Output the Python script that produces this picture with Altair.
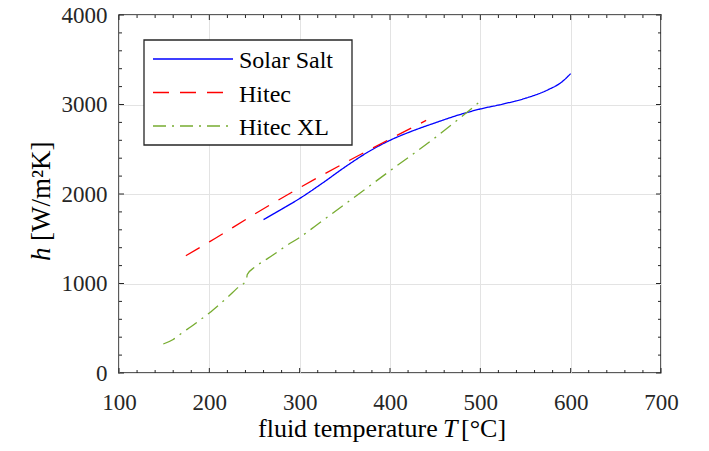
import altair as alt
import pandas as pd

# ---- data ----
series_names = ["Solar Salt", "Hitec", "Hitec XL"]
series_colors = ["#0000FF", "#FF0000", "#77AC30"]
series_dashes = [[1, 0], [16, 11], [13, 6, 2, 6]]

solar_T = [260, 280, 300, 325, 350, 375, 400, 425, 450, 475, 500, 525, 550, 575, 590, 600]
solar_h = [1714, 1830, 1950, 2120, 2300, 2465, 2600, 2705, 2795, 2880, 2950, 3005, 3070, 3165, 3250, 3345]

hitec_T = [174, 200, 250, 300, 350, 400, 440]
hitec_h = [1311, 1465, 1775, 2070, 2348, 2614, 2822]

xl_T = [149, 160, 170, 180, 190, 200, 210, 220, 230, 241, 242, 250, 260, 270, 285, 300, 325, 350, 400, 450, 498]
xl_h = [324, 375, 450, 520, 595, 670, 755, 845, 940, 1040, 1100, 1180, 1250, 1315, 1420, 1515, 1700, 1885, 2259, 2630, 3019]

x_major = [100, 200, 300, 400, 500, 600, 700]
x_minor = [t for t in range(100, 701, 20) if t % 100 != 0]
y_major = [0, 1000, 2000, 3000, 4000]
y_minor = [v for v in range(0, 4001, 200) if v % 1000 != 0]

# ---- build tables ----
rows = []
for name, T, h in [("Solar Salt", solar_T, solar_h), ("Hitec", hitec_T, hitec_h), ("Hitec XL", xl_T, xl_h)]:
    for t, v in zip(T, h):
        rows.append({"T": t, "h": v, "series": name})
df = pd.DataFrame(rows)

W, H = 542, 358
FONT = "Liberation Serif"
INK = "#262626"
TICK_FS = 23

xscale = alt.Scale(domain=[100, 700], nice=False, zero=False)
yscale = alt.Scale(domain=[0, 4000], nice=False, zero=False)

x_axis = alt.Axis(values=x_major, title=None, grid=True, gridColor="#e3e3e3", gridWidth=1,
                  domain=False, ticks=False, tickSize=0, labelPadding=18,
                  labelFont=FONT, labelFontSize=TICK_FS, labelColor=INK, labelFlush=False,
                  labelOverlap=False, format="d")
y_axis = alt.Axis(values=y_major, title=None, grid=True, gridColor="#e3e3e3", gridWidth=1,
                  domain=False, ticks=False, tickSize=0, labelPadding=12,
                  labelFont=FONT, labelFontSize=TICK_FS, labelColor=INK, labelFlush=False,
                  labelOverlap=False, format="d")

lines = alt.Chart(df).mark_line(strokeWidth=1.3, interpolate="monotone").encode(
    x=alt.X("T:Q", scale=xscale, axis=x_axis),
    y=alt.Y("h:Q", scale=yscale, axis=y_axis),
    color=alt.Color("series:N", scale=alt.Scale(domain=series_names, range=series_colors), legend=None),
    strokeDash=alt.StrokeDash("series:N", scale=alt.Scale(domain=series_names, range=series_dashes),
                              legend=None),
)

# ---- inward ticks on all four sides ----
def xticks(vals, length):
    d = pd.DataFrame({"T": vals})
    bottom = alt.Chart(d).mark_rule(color=INK, strokeWidth=1).encode(
        x=alt.X("T:Q", scale=xscale, axis=x_axis), y=alt.value(H), y2=alt.value(H - length))
    top = alt.Chart(d).mark_rule(color=INK, strokeWidth=1).encode(
        x=alt.X("T:Q", scale=xscale, axis=x_axis), y=alt.value(0), y2=alt.value(length))
    return [bottom, top]

def yticks(vals, length):
    d = pd.DataFrame({"h": vals})
    left = alt.Chart(d).mark_rule(color=INK, strokeWidth=1).encode(
        y=alt.Y("h:Q", scale=yscale, axis=y_axis), x=alt.value(0), x2=alt.value(length))
    right = alt.Chart(d).mark_rule(color=INK, strokeWidth=1).encode(
        y=alt.Y("h:Q", scale=yscale, axis=y_axis), x=alt.value(W), x2=alt.value(W - length))
    return [left, right]

tick_layers = xticks(x_major, 5) + xticks(x_minor, 3) + yticks(y_major, 5) + yticks(y_minor, 3)

# ---- text helpers ----
one = alt.Data(values=[{"d": 1}])

def label(text, x, y, italic=False, angle=0, size=26):
    kw = dict(font=FONT, fontSize=size, color="black", align="left", baseline="alphabetic")
    if italic:
        kw["fontStyle"] = "italic"
    if angle:
        kw["angle"] = angle
    return alt.Chart(one).mark_text(**kw).encode(
        x=alt.value(x), y=alt.value(y), text=alt.value(text))

titles = [
    label("fluid temperature", 139, 422),
    label("T", 324, 422, italic=True),
    label("[°C]", 342, 422),
    label("h", -69, 246, italic=True, angle=270, size=27),
    label("[W/m²K]", -69, 226, angle=270, size=27),
]

# ---- legend box (top-left inside the plot) ----
legend_layers = [
    alt.Chart(one).mark_rect(fill="white", stroke=INK, strokeWidth=1.3).encode(
        x=alt.value(25), x2=alt.value(233), y=alt.value(25), y2=alt.value(130))
]
row_line_y = [44, 77.5, 111]
for name, col, dash, ly in zip(series_names, series_colors, series_dashes, row_line_y):
    legend_layers.append(
        alt.Chart(one).mark_rule(color=col, strokeWidth=1.3, strokeDash=dash).encode(
            x=alt.value(34), x2=alt.value(114), y=alt.value(ly)))
    legend_layers.append(label(name, 120, ly + 9, size=24))

chart = alt.layer(lines, *tick_layers, *legend_layers, *titles).properties(
    width=W, height=H,
    autosize=alt.AutoSizeParams(type="none"),
    padding={"left": 111, "top": 7, "right": 40, "bottom": 70},
).configure_view(stroke=INK, strokeWidth=1.5)

chart.save("out.html", embed_options={"renderer": "svg", "actions": False})
